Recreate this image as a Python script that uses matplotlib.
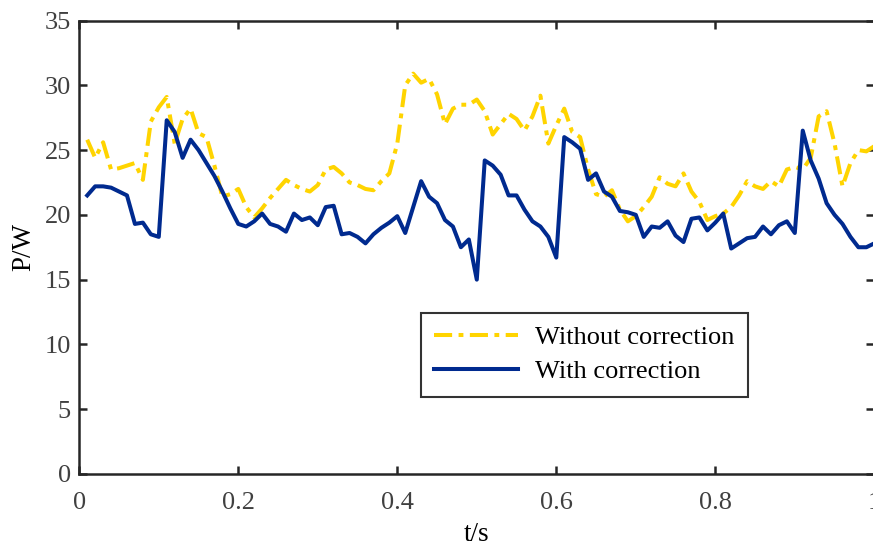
import matplotlib
matplotlib.use('Agg')
import matplotlib.pyplot as plt
import numpy as np

plt.rcParams['font.family'] = ['Liberation Serif', 'DejaVu Serif']

# sample times, 0.01 s steps
t = np.round(np.arange(1, 101) * 0.01, 2)

# power without correction (W)
p_raw = [25.8, 24.4, 25.6, 23.5, 23.6, 23.8, 24.0, 22.7, 27.2, 28.3,
         29.1, 25.5, 27.4, 28.2, 26.3, 26.0, 23.8, 21.4, 21.6, 22.0,
         20.6, 19.8, 20.5, 21.3, 22.0, 22.7, 22.3, 22.0, 21.8, 22.3,
         23.5, 23.7, 23.2, 22.5, 22.3, 22.0, 21.9, 22.6, 23.2, 25.5,
         30.0, 30.9, 30.2, 30.5, 29.3, 27.0, 28.2, 28.5, 28.5, 28.9,
         28.0, 26.2, 27.0, 27.8, 27.4, 26.5, 27.6, 29.2, 25.5, 26.9,
         28.2, 26.4, 26.0, 23.5, 21.6, 21.4, 21.9, 20.4, 19.5, 19.9,
         20.6, 21.4, 22.9, 22.4, 22.2, 23.2, 21.8, 21.0, 19.6, 19.9,
         20.1, 20.6, 21.5, 22.6, 22.2, 22.0, 22.6, 22.2, 23.5, 23.7,
         23.5, 24.4, 27.6, 28.0, 25.5, 22.2, 24.0, 25.0, 24.9, 25.3]

# power with correction (W)
p_cor = [21.5, 22.2, 22.2, 22.1, 21.8, 21.5, 19.3, 19.4, 18.5, 18.3,
         27.3, 26.4, 24.4, 25.8, 25.0, 24.0, 23.0, 21.8, 20.5, 19.3,
         19.1, 19.5, 20.1, 19.3, 19.1, 18.7, 20.1, 19.6, 19.8, 19.2,
         20.6, 20.7, 18.5, 18.6, 18.3, 17.8, 18.5, 19.0, 19.4, 19.9,
         18.6, 20.6, 22.6, 21.4, 20.9, 19.6, 19.1, 17.5, 18.1, 15.0,
         24.2, 23.8, 23.1, 21.5, 21.5, 20.4, 19.5, 19.1, 18.3, 16.7,
         26.0, 25.6, 25.1, 22.7, 23.2, 21.8, 21.4, 20.3, 20.2, 20.0,
         18.3, 19.1, 19.0, 19.5, 18.4, 17.9, 19.7, 19.8, 18.8, 19.4,
         20.1, 17.4, 17.8, 18.2, 18.3, 19.1, 18.5, 19.2, 19.5, 18.6,
         26.5, 24.2, 22.8, 20.9, 20.0, 19.3, 18.3, 17.5, 17.5, 17.8]

xticks = [0, 0.2, 0.4, 0.6, 0.8, 1]
xticklabels = ['0', '0.2', '0.4', '0.6', '0.8', '1']
yticks = [0, 5, 10, 15, 20, 25, 30, 35]

fig = plt.figure(figsize=(8.73, 5.47), dpi=100)
ax = fig.add_axes([0.0908, 0.1335, 0.9107, 0.829])

yellow = '#FFD400'
blue = '#002A8F'

l1, = ax.plot(t, p_raw, color=yellow, lw=2.9, label='Without correction')
l1.set_dashes([4.5, 1.6, 1.2, 1.6])
ax.plot(t, p_cor, color=blue, lw=2.9, label='With correction')

ax.set_xlim(0, 1)
ax.set_ylim(0, 35)
ax.set_xticks(xticks)
ax.set_xticklabels(xticklabels)
ax.set_yticks(yticks)

axcol = '#262626'
for s in ax.spines.values():
    s.set_linewidth(1.8)
    s.set_color(axcol)
ax.tick_params(direction='in', length=6, width=1.8, color=axcol,
               labelsize=19, labelcolor='#404040', top=True, right=True)
ax.tick_params(axis='x', pad=13)
ax.tick_params(axis='y', pad=6)

ax.set_xlabel('t/s', fontsize=19.5, labelpad=6)
ax.set_ylabel('P/W', fontsize=19.5, labelpad=6)

leg = ax.legend(loc='lower left', bbox_to_anchor=(0.4294, 0.1705),
                borderaxespad=0, fontsize=19, frameon=True, fancybox=False,
                handlelength=3.2, handletextpad=0.65, labelspacing=0.4,
                borderpad=0.5)
leg.get_frame().set_edgecolor('black')
leg.get_frame().set_linewidth(1.5)

fig.savefig('out.png', dpi=100)
